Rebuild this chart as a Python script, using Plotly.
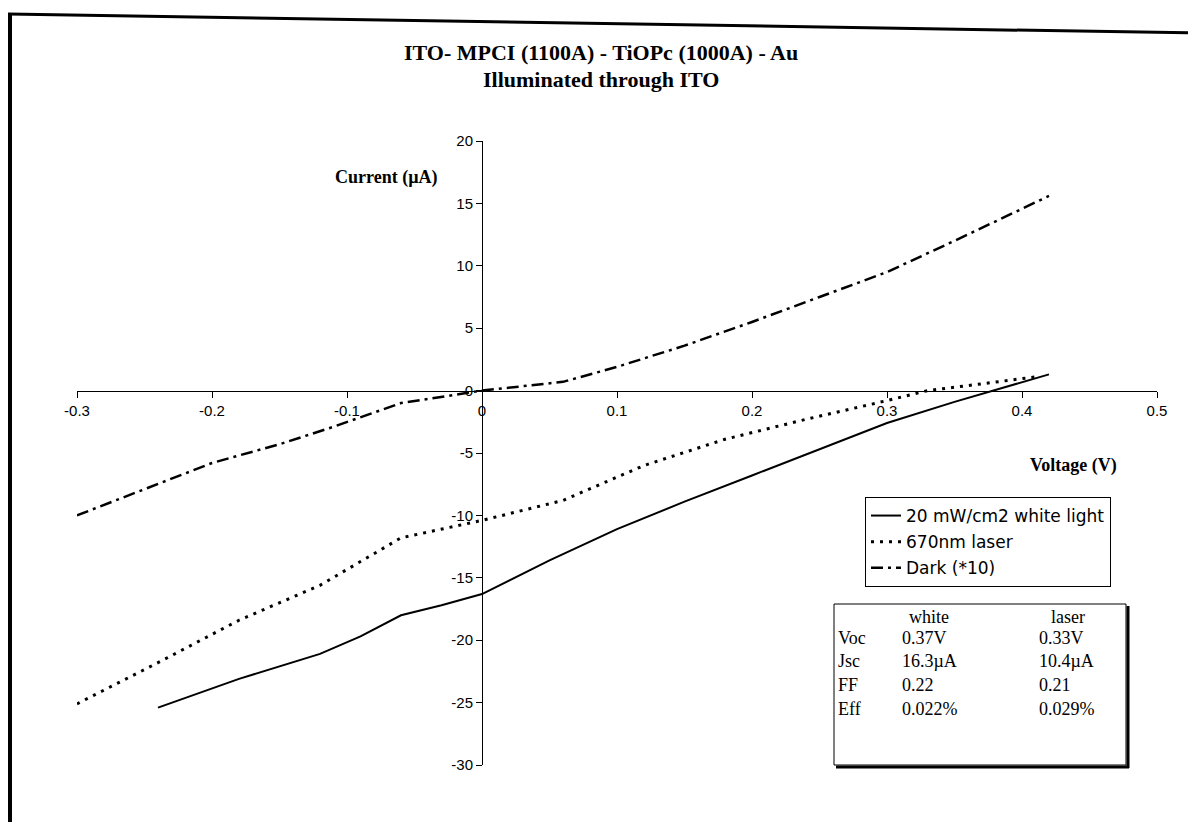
import plotly.graph_objects as go

# I-V data
white_v = [-0.24, -0.18, -0.12, -0.09, -0.06, -0.03, 0.0, 0.05, 0.10, 0.15, 0.20, 0.25, 0.30, 0.35, 0.42]
white_i = [-25.4, -23.1, -21.1, -19.7, -18.0, -17.2, -16.3, -13.6, -11.1, -8.9, -6.8, -4.7, -2.6, -0.9, 1.3]

laser_v = [-0.30, -0.24, -0.18, -0.12, -0.06, 0.0, 0.06, 0.12, 0.18, 0.24, 0.30, 0.33, 0.36, 0.41]
laser_i = [-25.1, -21.8, -18.4, -15.6, -11.8, -10.4, -8.8, -6.0, -3.9, -2.3, -0.8, 0.0, 0.4, 1.1]

dark_v = [-0.30, -0.24, -0.20, -0.15, -0.11, -0.06, 0.0, 0.06, 0.10, 0.15, 0.20, 0.25, 0.30, 0.35, 0.42]
dark_i = [-10.0, -7.5, -5.8, -4.3, -2.9, -1.0, 0.0, 0.7, 1.9, 3.6, 5.5, 7.5, 9.5, 12.0, 15.6]

x_ticks = [-0.3, -0.2, -0.1, 0, 0.1, 0.2, 0.3, 0.4, 0.5]
y_ticks = [20, 15, 10, 5, 0, -5, -10, -15, -20, -25, -30]

table_rows = ["Voc", "Jsc", "FF", "Eff"]
table_white = ["0.37V", "16.3µA", "0.22", "0.022%"]
table_laser = ["0.33V", "10.4µA", "0.21", "0.029%"]

# the page has an 8px body margin, so size the figure to fit the window
OFF = 8
FW, FH = 1180, 814
L, R, T, B = 69, 31, 133, 57
pw, ph = FW - L - R, FH - T - B

# screen pixel -> paper coords
def px(x):
    return (x - OFF - L) / pw

def py(y):
    return (FH - B - (y - OFF)) / ph

serif = "Liberation Serif, Times New Roman, serif"
sans = "Liberation Sans, Arial, sans-serif"

fig = go.Figure()
fig.add_trace(go.Scatter(x=white_v, y=white_i, mode="lines", name="20 mW/cm2 white light",
                         line=dict(color="black", width=2), legendgroup="a"))
fig.add_trace(go.Scatter(x=laser_v, y=laser_i, mode="lines", name="670nm laser",
                         line=dict(color="black", width=3, dash="3px,6px"), legendgroup="b"))
fig.add_trace(go.Scatter(x=dark_v, y=dark_i, mode="lines", name="Dark (*10)",
                         line=dict(color="black", width=2.5, dash="12px,5px,3px,5px"), legendgroup="c"))

fig.update_layout(
    width=FW, height=FH,
    margin=dict(l=L, r=R, t=T, b=B),
    paper_bgcolor="white", plot_bgcolor="white",
    font=dict(family=sans, size=15, color="black"),
    showlegend=True,
    legend=dict(x=px(865), y=py(497), xanchor="left", yanchor="top",
                bordercolor="black", borderwidth=1, bgcolor="white",
                font=dict(family="DejaVu Sans, sans-serif", size=17), tracegroupgap=1),
    xaxis=dict(range=[-0.3, 0.5], tickvals=x_ticks, ticktext=[str(v) for v in x_ticks],
               anchor="free", position=30 / 50, showline=True, linecolor="black", linewidth=1,
               ticks="outside", ticklen=6, tickcolor="black", showgrid=False, zeroline=False,
               tickfont=dict(size=15)),
    yaxis=dict(range=[-30, 20], tickvals=y_ticks, ticktext=[str(v) for v in y_ticks],
               anchor="free", position=0.3 / 0.8,
               showline=True, linecolor="black", linewidth=1,
               ticks="outside", ticklen=6, tickcolor="black", showgrid=False, zeroline=False,
               tickfont=dict(size=15)),
)

ann = []
ann.append(dict(x=px(601), y=py(52), text="<b>ITO- MPCI (1100A) - TiOPc (1000A) - Au</b>",
                font=dict(family=serif, size=22)))
ann.append(dict(x=px(601), y=py(80), text="<b>Illuminated through ITO</b>",
                font=dict(family=serif, size=22)))
ann.append(dict(x=px(386), y=py(177), text="<b>Current (µA)</b>", font=dict(family=serif, size=18)))
ann.append(dict(x=px(1073), y=py(466), text="<b>Voltage (V)</b>", font=dict(family=serif, size=18)))

# parameter table
ann.append(dict(x=px(929), y=py(617), text="white", font=dict(family=serif, size=18)))
ann.append(dict(x=px(1068), y=py(617), text="laser", font=dict(family=serif, size=18)))
row_y = [638, 661, 685, 709]
for name, wv, lv, ry in zip(table_rows, table_white, table_laser, row_y):
    ann.append(dict(x=px(836), y=py(ry), text=name, xanchor="left", font=dict(family=serif, size=18)))
    ann.append(dict(x=px(900), y=py(ry), text=wv, xanchor="left", font=dict(family=serif, size=18)))
    ann.append(dict(x=px(1037), y=py(ry), text=lv, xanchor="left", font=dict(family=serif, size=18)))
for a in ann:
    a.update(xref="paper", yref="paper", showarrow=False)
    a.setdefault("xanchor", "center")
    a.setdefault("yanchor", "middle")
fig.update_layout(annotations=ann)

shapes = [
    # table box with a drop shadow
    dict(type="rect", x0=px(834), x1=px(1126), y0=py(604), y1=py(765), line=dict(color="black", width=1)),
    dict(type="line", x0=px(1128), x1=px(1128), y0=py(606), y1=py(768), line=dict(color="black", width=3)),
    dict(type="line", x0=px(836), x1=px(1129), y0=py(767), y1=py(767), line=dict(color="black", width=3)),
    # page frame from the scan
    dict(type="line", x0=px(10), x1=px(10), y0=py(14), y1=py(830), line=dict(color="black", width=4)),
    dict(type="line", x0=px(8), x1=px(1196), y0=py(14), y1=py(33), line=dict(color="black", width=3)),
]
for s in shapes:
    s.update(xref="paper", yref="paper")
fig.update_layout(shapes=shapes)

fig.write_html("out.html")
